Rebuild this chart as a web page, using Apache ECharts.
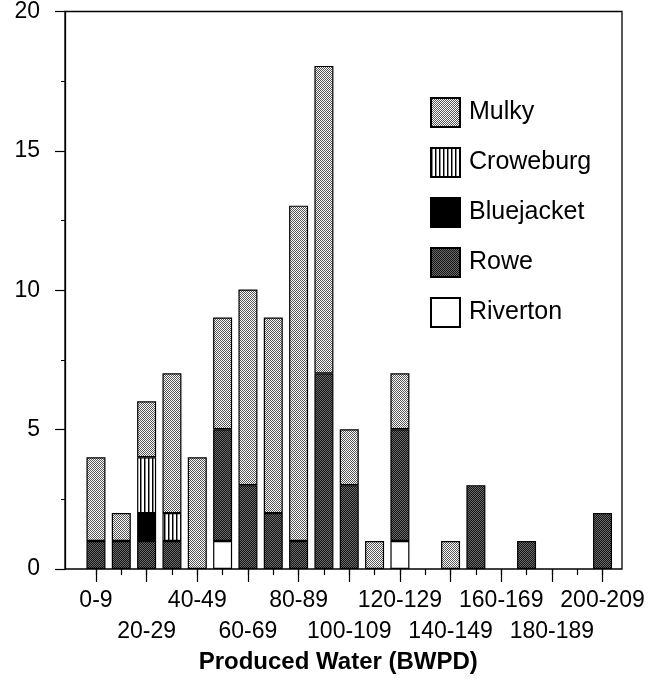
<!DOCTYPE html>
<html>
<head>
<meta charset="utf-8">
<script src="https://cdn.jsdelivr.net/npm/echarts@6/dist/echarts.min.js"></script>
<style>
  html, body { margin: 0; padding: 0; background: #fff; }
  #chart { width: 665px; height: 683px; }
</style>
</head>
<body>
<div id="chart"></div>
<script>
// bins of produced water (BWPD)
const categories = ['0-9', '10-19', '20-29', '30-39', '40-49', '50-59', '60-69', '70-79',
  '80-89', '90-99', '100-109', '110-119', '120-129', '130-139', '140-149', '150-159',
  '160-169', '170-179', '180-189', '190-199', '200-209'];

// well counts per formation, stacked bottom to top
const riverton   = [0, 0, 0, 0, 0, 1, 0, 0, 0, 0, 0, 0, 1, 0, 0, 0, 0, 0, 0, 0, 0];
const rowe       = [1, 1, 1, 1, 0, 4, 3, 2, 1, 7, 3, 0, 4, 0, 0, 3, 0, 1, 0, 0, 2];
const bluejacket = [0, 0, 1, 0, 0, 0, 0, 0, 0, 0, 0, 0, 0, 0, 0, 0, 0, 0, 0, 0, 0];
const croweburg  = [0, 0, 2, 1, 0, 0, 0, 0, 0, 0, 0, 0, 0, 0, 0, 0, 0, 0, 0, 0, 0];
const mulky      = [3, 1, 2, 5, 4, 4, 7, 7, 12, 11, 2, 1, 2, 0, 1, 0, 0, 0, 0, 0, 0];

const yMax = 20;
const yStep = 5;
const legendOrder = ['Mulky', 'Croweburg', 'Bluejacket', 'Rowe', 'Riverton'];

const FONT = "'Liberation Sans', Arial, sans-serif";

// small canvas tiles to imitate the printed hatch patterns
function tile(w, h, draw) {
  const c = document.createElement('canvas');
  c.width = w; c.height = h;
  draw(c.getContext('2d'));
  return { image: c, repeat: 'repeat' };
}
const mulkyFill = tile(2, 2, ctx => {
  ctx.fillStyle = '#fff'; ctx.fillRect(0, 0, 2, 2);
  ctx.fillStyle = '#555'; ctx.fillRect(0, 0, 1, 1); ctx.fillRect(1, 1, 1, 1);
});
const roweFill = tile(2, 2, ctx => {
  ctx.fillStyle = '#151515'; ctx.fillRect(0, 0, 2, 2);
  ctx.fillStyle = '#6a6a6a'; ctx.fillRect(0, 0, 1, 1); ctx.fillRect(1, 1, 1, 1);
});
const croweFill = tile(4, 1, ctx => {
  ctx.fillStyle = '#fff'; ctx.fillRect(0, 0, 4, 1);
  ctx.fillStyle = '#000'; ctx.fillRect(0, 0, 1, 1);
  ctx.fillStyle = '#888'; ctx.fillRect(1, 0, 1, 1);
});

const noZero = arr => arr.map(v => (v === 0 ? '-' : v));

function barSeries(name, data, fill) {
  return {
    name: name,
    type: 'bar',
    xAxisIndex: 0,
    yAxisIndex: 1,
    stack: 'wells',
    barWidth: 19,
    data: noZero(data),
    itemStyle: { color: fill, borderColor: '#000', borderWidth: 1.2 },
    emphasis: { disabled: true }
  };
}

const chart = echarts.init(document.getElementById('chart'));
chart.setOption({
  animation: false,
  backgroundColor: '#fff',
  textStyle: { fontFamily: FONT, color: '#000' },
  grid: [
    // frame: box + y axis
    { left: 65, right: 43, top: 10, bottom: 114, show: true, borderColor: '#000', borderWidth: 1.3, backgroundColor: 'transparent' },
    // bars
    { left: 83.3, right: 49.8, top: 10, bottom: 114 }
  ],
  legend: {
    data: legendOrder,
    orient: 'vertical',
    left: 425,
    top: 92,
    itemWidth: 29,
    itemHeight: 29,
    itemGap: 19,
    icon: 'rect',
    selectedMode: false,
    textStyle: { fontFamily: FONT, fontSize: 25, color: '#000', padding: [0, 0, 0, 4] }
  },
  xAxis: [
    {
      gridIndex: 1, type: 'category', data: categories, position: 'bottom',
      axisLine: { show: false },
      axisTick: { show: true, alignWithLabel: true, interval: 0, length: 6, lineStyle: { color: '#000', width: 1.2 } },
      axisLabel: { interval: (i) => i % 4 === 0, margin: 20, fontSize: 23, color: '#000', fontFamily: FONT }
    },
    {
      gridIndex: 1, type: 'category', data: categories, position: 'bottom',
      axisLine: { show: false },
      axisTick: { show: true, alignWithLabel: true, interval: (i) => i % 2 === 0, length: 13, lineStyle: { color: '#000', width: 1.2 } },
      axisLabel: { interval: (i) => i % 4 === 2, margin: 51, fontSize: 23, color: '#000', fontFamily: FONT },
      name: 'Produced Water (BWPD)',
      nameLocation: 'middle',
      nameGap: 81,
      nameTextStyle: { fontSize: 24, fontWeight: 'bold', color: '#000', fontFamily: FONT, padding: [0, 22, 0, 0] }
    },
    { gridIndex: 0, type: 'value', show: false, min: 0, max: 1 }
  ],
  yAxis: [
    {
      gridIndex: 0, type: 'value', min: 0, max: yMax, interval: yStep,
      axisLine: { show: true, lineStyle: { color: '#000', width: 1.3 } },
      axisTick: { show: true, length: 10, lineStyle: { color: '#000', width: 1.2 } },
      minorTick: { show: true, splitNumber: 2, length: 4, lineStyle: { color: '#000', width: 1 } },
      splitLine: { show: false },
      axisLabel: { margin: 25, fontSize: 23, color: '#000', fontFamily: FONT }
    },
    { gridIndex: 1, type: 'value', min: 0, max: yMax, show: false }
  ],
  series: [
    barSeries('Riverton', riverton, '#fff'),
    barSeries('Rowe', rowe, roweFill),
    barSeries('Bluejacket', bluejacket, '#000'),
    barSeries('Croweburg', croweburg, croweFill),
    barSeries('Mulky', mulky, mulkyFill)
  ]
});
</script>
</body>
</html>
